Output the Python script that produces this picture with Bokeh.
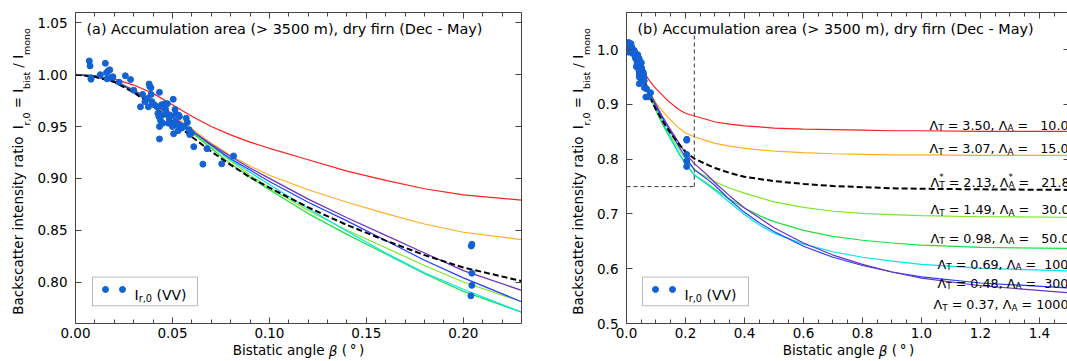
import re
from bokeh.plotting import figure
from bokeh.models import (Range1d, LinearAxis, FixedTicker, PrintfTickFormatter,
                          Label, BoxAnnotation, CustomLabelingPolicy)
from bokeh.layouts import row
from bokeh.embed import file_html
from bokeh.resources import INLINE

FONT = "DejaVu Sans"

# ---------------- data ----------------
obs_beta = [0.0071, 0.0075, 0.0080, 0.0080, 0.0128, 0.0154, 0.0160, 0.0169, 0.0177, 0.0185,
            0.0163, 0.0193, 0.0225, 0.0257, 0.0284, 0.0300, 0.0335, 0.0346, 0.0358, 0.0370,
            0.0376, 0.0380, 0.0383, 0.0389, 0.0390, 0.0394, 0.0406, 0.0420, 0.0425, 0.0430,
            0.0433, 0.0433, 0.0433, 0.0438, 0.0444, 0.0447, 0.0450, 0.0456, 0.0461, 0.0465,
            0.0470, 0.0474, 0.0479, 0.0483, 0.0488, 0.0500, 0.0504, 0.0506, 0.0510, 0.0513,
            0.0518, 0.0522, 0.0529, 0.0532, 0.0536, 0.0545, 0.0548, 0.0559, 0.0571, 0.0577,
            0.0586, 0.0589, 0.0598, 0.0610, 0.0657, 0.0678, 0.0754, 0.0815,
            0.2041, 0.2044, 0.2044, 0.2044, 0.2039]
obs_ratio = [1.0133, 1.0085, 0.9970, 0.9956, 1.0000, 1.0110, 1.0020, 1.0038, 1.0047, 0.9975,
             0.9960, 0.9980, 0.9927, 0.9990, 0.9953, 0.9850, 0.9690, 0.9810, 0.9740, 0.9770,
             0.9690, 0.9910, 0.9886, 0.9874, 0.9810, 0.9740, 0.9710, 0.9690, 0.9627, 0.9596,
             0.9830, 0.9500, 0.9380, 0.9560, 0.9710, 0.9610, 0.9532, 0.9710, 0.9720, 0.9665,
             0.9627, 0.9720, 0.9532, 0.9580, 0.9610, 0.9500, 0.9763, 0.9430, 0.9540, 0.9665,
             0.9620, 0.9517, 0.9460, 0.9610, 0.9596, 0.9500, 0.9485, 0.9500, 0.9580, 0.9540,
             0.9470, 0.9422, 0.9438, 0.9305, 0.9137, 0.9286, 0.9140, 0.9216,
             0.8348, 0.8364, 0.8085, 0.7968, 0.7867]

model_beta = [0.00, 0.01, 0.02, 0.03, 0.04, 0.05, 0.06, 0.07, 0.08, 0.09, 0.10,
              0.12, 0.14, 0.16, 0.18, 0.20,
              0.23, 0.27, 0.30, 0.35, 0.40, 0.45, 0.50, 0.60, 0.70, 0.80, 0.90, 1.00, 1.20, 1.50]
ratio_LA10 = [1.000, 0.999, 0.996, 0.990, 0.982, 0.971, 0.960, 0.950, 0.942, 0.935, 0.929,
              0.918, 0.907, 0.898, 0.890, 0.884,
              0.879, 0.873, 0.868, 0.864, 0.861, 0.859, 0.857, 0.855, 0.854, 0.853, 0.852, 0.852, 0.851, 0.851]
ratio_LA15 = [1.000, 0.999, 0.994, 0.986, 0.975, 0.962, 0.948, 0.934, 0.922, 0.912, 0.903,
              0.889, 0.877, 0.866, 0.856, 0.848,
              0.841, 0.834, 0.829, 0.824, 0.820, 0.817, 0.815, 0.812, 0.810, 0.809, 0.808, 0.808, 0.807, 0.807]
ratio_LAopt = [1.000, 0.998, 0.993, 0.983, 0.970, 0.955, 0.940, 0.926, 0.913, 0.901, 0.891,
               0.872, 0.855, 0.840, 0.826, 0.814,
               0.801, 0.791, 0.784, 0.775, 0.768, 0.764, 0.760, 0.755, 0.751, 0.749, 0.747, 0.746, 0.745, 0.744]
ratio_LA30 = [1.000, 0.999, 0.994, 0.985, 0.972, 0.958, 0.945, 0.931, 0.917, 0.903, 0.891,
              0.869, 0.850, 0.833, 0.816, 0.800,
              0.781, 0.768, 0.759, 0.747, 0.738, 0.730, 0.722, 0.712, 0.705, 0.701, 0.699, 0.697, 0.695, 0.694]
ratio_LA50 = [1.000, 0.999, 0.994, 0.985, 0.973, 0.959, 0.944, 0.929, 0.914, 0.901, 0.889,
              0.866, 0.846, 0.827, 0.808, 0.791,
              0.771, 0.757, 0.745, 0.727, 0.711, 0.697, 0.686, 0.670, 0.659, 0.652, 0.647, 0.643, 0.639, 0.637]
ratio_LA100 = [1.000, 0.999, 0.994, 0.985, 0.973, 0.960, 0.946, 0.932, 0.918, 0.906, 0.894,
               0.871, 0.849, 0.828, 0.809, 0.793,
               0.771, 0.755, 0.743, 0.721, 0.699, 0.680, 0.665, 0.645, 0.631, 0.621, 0.614, 0.608, 0.601, 0.596]
ratio_LA300 = [1.000, 0.999, 0.994, 0.985, 0.973, 0.960, 0.946, 0.932, 0.919, 0.908, 0.897,
               0.877, 0.859, 0.840, 0.821, 0.804,
               0.781, 0.765, 0.752, 0.726, 0.703, 0.684, 0.668, 0.641, 0.621, 0.606, 0.594, 0.585, 0.574, 0.565]
ratio_LA1000 = [1.000, 0.998, 0.993, 0.984, 0.972, 0.959, 0.946, 0.933, 0.921, 0.910, 0.900,
                0.880, 0.862, 0.845, 0.828, 0.811,
                0.792, 0.773, 0.757, 0.733, 0.711, 0.693, 0.675, 0.647, 0.625, 0.608, 0.594, 0.583, 0.569, 0.556]

lambda_T = ["3.50", "3.07", "2.13", "1.49", "0.98", "0.69", "0.48", "0.37"]
lambda_A = ["10.0", "15.0", "21.8", "30.0", "50.0", "100.0", "300.0", "1000.0"]

beta_limit = 0.23
ratio_limit = 0.75
ratio_top_limit = 1.03

panel_titles = ["(a) Accumulation area (> 3500 m), dry firn (Dec - May)",
                "(b) Accumulation area (> 3500 m), dry firn (Dec - May)"]

# ---------------- styling ----------------
curves = [
    (ratio_LA10, "#ff2020", 1.2, "solid"),
    (ratio_LA15, "#ffb020", 1.2, "solid"),
    (ratio_LA30, "#7ee628", 1.2, "solid"),
    (ratio_LA50, "#1ee040", 1.2, "solid"),
    (ratio_LA100, "#00e4f4", 1.2, "solid"),
    (ratio_LA300, "#2040ff", 1.2, "solid"),
    (ratio_LA1000, "#7030c0", 1.2, "solid"),
    (ratio_LAopt, "#000000", 2.0, "6 3"),
]
DOT = "#1262d4"
AXC = "#444444"
ASC, DESC = 0.928, 0.236

W = {' ': 0.318, '(': 0.390, ')': 0.390, '*': 0.500, ',': 0.318, '-': 0.361, '.': 0.318,
     '/': 0.337, '=': 0.838, '>': 0.838, 'A': 0.684, 'B': 0.686, 'D': 0.770, 'I': 0.295,
     'M': 0.863, 'T': 0.611, 'V': 0.684, 'a': 0.613, 'b': 0.635, 'c': 0.550, 'd': 0.635,
     'e': 0.615, 'f': 0.352, 'g': 0.635, 'h': 0.634, 'i': 0.278, 'k': 0.579, 'l': 0.278,
     'm': 0.974, 'n': 0.634, 'o': 0.612, 'p': 0.635, 'r': 0.411, 's': 0.521, 't': 0.392,
     'u': 0.634, 'y': 0.592, '\u00b0': 0.500, '\u03b2': 0.637, '\u039b': 0.684, '\u2009': 0.2}
for d in "0123456789":
    W[d] = 0.636

NO_LABELS = """
try { for (let i = 0; i < indices.size; i++) indices.unset(i) } catch (e) {}
return indices
"""


def tw(s, size):
    return sum(W.get(c, 0.6) for c in s) * size


def make_mapper(fl, fr, ft, fb, xr, yr):
    def m(px, py):
        return (xr[0] + (px - fl) / (fr - fl) * (xr[1] - xr[0]),
                yr[1] - (py - ft) / (fb - ft) * (yr[1] - yr[0]))
    return m


def tokens(segs):
    out, pos = [], 0.0
    for text, size, style, cls in segs:
        for mt in re.finditer(r"\S+(?: \S+)*", text):
            off = pos + tw(text[:mt.start()], size)
            out.append((mt.group(0), size, style, cls, off, tw(mt.group(0), size)))
        pos += tw(text, size)
    return out, pos


def rich(p, mapper, segs, x0, y0, level="annotation"):
    """horizontal rich text inside the frame. segs: (text, size, shift, style, advance)"""
    pos = 0.0
    for text, size, shift, style, adv in segs:
        for mt in re.finditer(r"\S+(?: \S+)*", text):
            off = pos + tw(text[:mt.start()], size)
            xd, yd = mapper(x0 + off, y0 + shift)
            p.add_layout(Label(x=xd, y=yd, text=mt.group(0), text_font=FONT,
                               text_font_size=f"{size}px", text_font_style=style,
                               text_color="black", text_align="left",
                               text_baseline="alphabetic", level=level))
        if adv:
            pos += tw(text, size)


def text_axis(p, side, pos, texts, size, style, standoff, orient):
    pos = [round(v, 6) for v in pos]
    ax = LinearAxis(ticker=FixedTicker(ticks=pos, minor_ticks=[]),
                    major_label_overrides={v: t for v, t in zip(pos, texts)},
                    axis_line_color=None, major_tick_line_color=None,
                    minor_tick_line_color=None, major_tick_in=0, major_tick_out=0,
                    minor_tick_in=0, minor_tick_out=0,
                    major_label_text_font=FONT, major_label_text_font_size=f"{size}px",
                    major_label_text_font_style=style, major_label_text_color="black",
                    major_label_standoff=int(round(standoff)),
                    major_label_orientation=orient)
    p.add_layout(ax, side)


def style_axis(ax, major, minor, fmt, labels=True):
    ax.ticker = FixedTicker(ticks=major, minor_ticks=minor)
    ax.axis_line_color = AXC
    ax.axis_line_width = 1
    ax.major_tick_line_color = AXC
    ax.minor_tick_line_color = AXC
    ax.major_tick_in = 6
    ax.major_tick_out = 0
    ax.minor_tick_in = 4
    ax.minor_tick_out = 0
    if labels:
        ax.formatter = PrintfTickFormatter(format=fmt)
        ax.major_label_text_font = FONT
        ax.major_label_text_font_size = "13.5px"
        ax.major_label_text_color = "black"
    else:
        ax.major_label_text_font_size = "0px"
        ax.major_label_standoff = 0
        ax.major_label_policy = CustomLabelingPolicy(code=NO_LABELS)


YSTAND, XSTAND, TICKF = 8, 4, 13.5


def build_panel(width, fl, fr, xr, yr, xmaj, xmin, xfmt, ymaj, yfmt,
                page_off, title, cfg, right_axis=True):
    p = figure(width=width, height=361, x_range=Range1d(*xr), y_range=Range1d(*yr),
               output_backend="svg", toolbar_location=None,
               min_border_left=fl, min_border_right=width - fr,
               min_border_top=12, min_border_bottom=34)
    p.outline_line_color = None
    p.xgrid.visible = False
    p.ygrid.visible = False
    p.background_fill_color = "white"
    p.border_fill_color = "white"
    style_axis(p.xaxis[0], xmaj, xmin, xfmt)
    style_axis(p.yaxis[0], ymaj, [], yfmt)
    p.xaxis[0].major_label_standoff = XSTAND
    p.yaxis[0].major_label_standoff = YSTAND
    top = LinearAxis()
    style_axis(top, xmaj, xmin, xfmt, labels=False)
    p.add_layout(top, "above")
    rgt = LinearAxis()
    style_axis(rgt, ymaj, [], yfmt, labels=False)
    if not right_axis:
        # the frame continues just past the window edge: only the tick stubs are seen
        rgt.axis_line_color = None
        rgt.major_tick_in = 4
    p.add_layout(rgt, "right")

    m_page = make_mapper(fl + page_off, fr + page_off, 12, 327, xr, yr)
    m_can = make_mapper(fl, fr, 12, 327, xr, yr)

    for ys, col, lw, dash in curves:
        p.line(model_beta, ys, line_color=col, line_width=lw, line_dash=dash)
    p.scatter(obs_beta, obs_ratio, size=6, fill_color=DOT, line_color=DOT, marker="circle")

    # title inside the frame
    rich(p, m_page, [(title, 14.4, 0, "normal", True)], fl + page_off + 11, 29)

    # ---- y axis title, built from axis tick labels (main text + subscripts) ----
    fM, fS = 13.5, 9.5
    ysegs = [("Backscatter intensity ratio  I", fM, "normal", "M"), ("r,0", fS, "normal", "S"),
             (" = I", fM, "normal", "M"), ("bist", fS, "normal", "S"),
             (" / I", fM, "normal", "M"), ("mono", fS, "normal", "S")]
    toks, _ = tokens(ysegs)
    bM = cfg["ylab_base"]          # canvas x of main baseline
    bS = bM + 4
    E = fl - YSTAND - tw(cfg["widest_tick"], TICKF)
    sS = int(round(E - DESC * fS - bS))
    E2 = E - sS - (ASC + DESC) * fS
    sM = E2 - DESC * fM - bM
    for cls, size, sd in (("S", fS, sS), ("M", fM, sM)):
        sel = [t for t in toks if t[3] == cls]
        pos = [m_can(0, 317 - (t[4] + t[5] / 2))[1] for t in sel]
        text_axis(p, "left", pos, [t[0] for t in sel], size, "normal", sd, "parallel")

    # ---- x axis title ----
    xsegs = [("Bistatic angle ", fM, "normal", "M"), ("\u03b2", fM, "italic", "B"),
             (" (\u2009\u00b0\u2009)", fM, "normal", "M")]
    toks, tot = tokens(xsegs)
    start = cfg["xlab_c"] - tot / 2
    Eb = 327 + XSTAND + (ASC + DESC) * TICKF
    topy = 356.5 - ASC * fM
    sXM0 = int(round(topy - Eb))
    sXB = int(round(topy - (Eb + sXM0 + (ASC + DESC) * fM))) - 3
    sXM = sXM0 + 4
    for cls, style, sd in (("M", "normal", sXM), ("B", "italic", sXB)):
        sel = [t for t in toks if t[3] == cls]
        pos = [m_can(start + t[4] + t[5] / 2, 0)[0] for t in sel]
        text_axis(p, "below", pos, [t[0] for t in sel], fM, style, sd, "horizontal")

    # ---- legend ----
    bl, br, bt, bb = cfg["box"]
    (l0, t0) = m_page(bl, bt)
    (r0, b0) = m_page(br, bb)
    p.add_layout(BoxAnnotation(left=l0, right=r0, top=t0, bottom=b0, fill_color="white",
                               fill_alpha=1.0, line_color="#222222", line_width=1,
                               level="annotation"))
    d1 = m_page(bl + 13, 292.5)
    d2 = m_page(bl + 30, 292.5)
    lr = p.scatter([d1[0], d2[0]], [d1[1], d2[1]], size=6, fill_color=DOT, line_color=DOT)
    lr.level = "overlay"
    rich(p, m_page, [("I", 14, 0, "normal", True), ("r,0", 9.8, 3, "normal", True),
                     (" (VV)", 14, 0, "normal", True)], bl + 42, 298.5, level="overlay")
    return p, m_page


# ---- panel a ----
pa, ma = build_panel(540, 75, 521, (0.0, 0.23), (0.76, 1.06),
                     [0.0, 0.05, 0.10, 0.15, 0.20],
                     [0.01, 0.02, 0.03, 0.04, 0.06, 0.07, 0.08, 0.09, 0.11, 0.12, 0.13, 0.14,
                      0.16, 0.17, 0.18, 0.19, 0.21, 0.22],
                     "%.2f", [0.80, 0.85, 0.90, 0.95, 1.00, 1.05], "%.2f", 0, panel_titles[0],
                     {"box": (92, 197, 280, 309), "ylab_base": 28.5, "xlab_c": 298,
                      "widest_tick": "1.00"})

# ---- panel b ----
xb_minor = [round(0.05 * k, 2) for k in range(0, 31) if k % 4 != 0]
pb, mb = build_panel(527, 86, 527, (0.0, 1.495), (0.5, 1.068),
                     [0.0, 0.2, 0.4, 0.6, 0.8, 1.0, 1.2, 1.4], xb_minor, "%.1f",
                     [0.5, 0.6, 0.7, 0.8, 0.9, 1.0], "%.1f", 540, panel_titles[1],
                     {"box": (642, 748, 280, 309), "ylab_base": 48, "xlab_c": 308,
                      "widest_tick": "1.0"},
                     right_axis=False)

pb.line([beta_limit, beta_limit], [ratio_limit, ratio_top_limit], line_color="#555555",
        line_width=1.2, line_dash="4 3")
pb.line([0.0, beta_limit], [ratio_limit, ratio_limit], line_color="#333333",
        line_width=1.0, line_dash="4 3")

# curve annotations in panel b
lab_x = [929, 929, 930, 930, 930, 937, 937, 933]
lab_y = [126, 150, 184, 212, 240.5, 267, 286, 308]
f, s = 12.7, 8.9
for i in range(len(lambda_T)):
    star = (i == 2)
    segs = [("\u039b", f, 0, "normal", True)]
    if star:
        segs.append(("*", s, -5, "normal", False))
    segs += [("T", s, 3, "normal", True),
             (f" = {lambda_T[i]}, \u039b", f, 0, "normal", True)]
    if star:
        segs.append(("*", s, -5, "normal", False))
    pad = " " * max(1, 7 - len(lambda_A[i]))
    segs += [("A", s, 3, "normal", True),
             (f" ={pad}{lambda_A[i]}", f, 0, "normal", True)]
    rich(pb, mb, segs, lab_x[i], lab_y[i])

layout = row(pa, pb)
open("out.html", "w").write(file_html(layout, INLINE))
